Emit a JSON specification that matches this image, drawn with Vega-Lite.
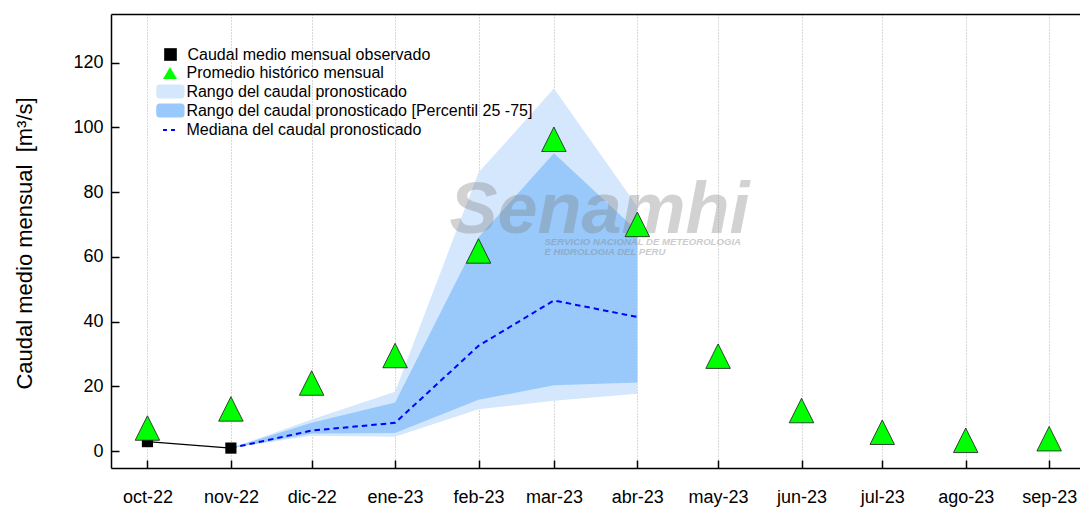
{
  "$schema": "https://vega.github.io/schema/vega-lite/v6.json",
  "width": 969,
  "height": 454,
  "autosize": "none",
  "padding": {"left": 111, "top": 14, "right": 0, "bottom": 42},
  "background": "white",
  "config": {"view": {"stroke": null}, "font": "Liberation Sans",
    "legend": {"orient": "none", "title": null, "padding": 0, "labelFont": "Liberation Sans", "labelFontSize": 16, "labelColor": "#000000", "labelLimit": 700, "symbolOpacity": 1}},
  "datasets": {
    "fc": [
      {"m": "2022-11-01T00:00:00", "lo": 0.9, "p25": 0.9, "med": 0.9, "p75": 0.9, "hi": 0.9},
      {"m": "2022-12-01T00:00:00", "lo": 4.7, "p25": 5.4, "med": 6.3, "p75": 8.7, "hi": 9.7},
      {"m": "2023-01-01T00:00:00", "lo": 4.4, "p25": 5.6, "med": 8.7, "p75": 15.0, "hi": 18.3},
      {"m": "2023-02-01T00:00:00", "lo": 12.9, "p25": 15.8, "med": 32.5, "p75": 66.0, "hi": 86.0},
      {"m": "2023-03-01T00:00:00", "lo": 15.5, "p25": 20.3, "med": 46.5, "p75": 92.0, "hi": 112.0},
      {"m": "2023-04-01T00:00:00", "lo": 17.7, "p25": 21.2, "med": 41.4, "p75": 68.0, "hi": 75.5}
    ],
    "hist": [
      {"m": "2022-10-01T00:00:00", "v": 7.1},
      {"m": "2022-11-01T00:00:00", "v": 13.0},
      {"m": "2022-12-01T00:00:00", "v": 21.0},
      {"m": "2023-01-01T00:00:00", "v": 29.5},
      {"m": "2023-02-01T00:00:00", "v": 61.8},
      {"m": "2023-03-01T00:00:00", "v": 96.3},
      {"m": "2023-04-01T00:00:00", "v": 70.0},
      {"m": "2023-05-01T00:00:00", "v": 29.3},
      {"m": "2023-06-01T00:00:00", "v": 12.5},
      {"m": "2023-07-01T00:00:00", "v": 5.8},
      {"m": "2023-08-01T00:00:00", "v": 3.3},
      {"m": "2023-09-01T00:00:00", "v": 3.8}
    ],
    "obs": [
      {"m": "2022-10-01T00:00:00", "v": 2.9},
      {"m": "2022-11-01T00:00:00", "v": 0.9}
    ]
  },
  "resolve": {"axis": {"x": "independent"}, "scale": {"color": "independent"}, "legend": {"color": "independent"}},
  "layer": [
    {
      "data": {"name": "fc"},
      "mark": {"type": "area", "opacity": 1},
      "encoding": {
        "x": {
          "field": "m", "type": "temporal",
          "scale": {"domain": [{"year": 2022, "month": 9, "date": 17, "hours": 11}, {"year": 2023, "month": 9, "date": 12, "hours": 11}]},
          "axis": {
            "orient": "bottom", "title": null,
            "values": [
              {"year": 2022, "month": 10, "date": 1}, {"year": 2022, "month": 11, "date": 1}, {"year": 2022, "month": 12, "date": 1},
              {"year": 2023, "month": 1, "date": 1}, {"year": 2023, "month": 2, "date": 1}, {"year": 2023, "month": 3, "date": 1},
              {"year": 2023, "month": 4, "date": 1}, {"year": 2023, "month": 5, "date": 1}, {"year": 2023, "month": 6, "date": 1},
              {"year": 2023, "month": 7, "date": 1}, {"year": 2023, "month": 8, "date": 1}, {"year": 2023, "month": 9, "date": 1}
            ],
            "labelExpr": "['ene','feb','mar','abr','may','jun','jul','ago','sep','oct','nov','dic'][month(datum.value)] + '-' + timeFormat(datum.value, '%y')",
            "labelFont": "Liberation Sans", "labelFontSize": 18, "labelColor": "#000000",
            "labelPadding": 28, "labelFlush": false, "labelOverlap": false, "labelBaseline": "top",
            "tickSize": -8, "tickColor": "#000000", "tickWidth": 1.5,
            "domainColor": "#000000", "domainWidth": 1.5,
            "grid": true, "gridColor": "#b0b0b0", "gridDash": [1, 2], "gridWidth": 1
          }
        },
        "y": {
          "field": "lo", "type": "quantitative",
          "scale": {"domain": [-5.25, 135], "nice": false, "zero": false},
          "axis": {
            "orient": "left",
            "title": "Caudal medio mensual\u00a0\u00a0[m³/s]",
            "values": [0, 20, 40, 60, 80, 100, 120],
            "labelFont": "Liberation Sans", "labelFontSize": 18, "labelColor": "#000000", "labelPadding": 16,
            "tickSize": -8, "tickColor": "#000000", "tickWidth": 1.5,
            "domainColor": "#000000", "domainWidth": 1.5,
            "grid": false,
            "titleFont": "Liberation Sans", "titleFontSize": 22, "titleFontWeight": "normal", "titleColor": "#000000",
            "titleAngle": -90, "titleX": -80, "titleY": 229, "titleBaseline": "alphabetic", "titleAlign": "center"
          }
        },
        "y2": {"field": "hi"},
        "color": {
          "datum": "Rango del caudal pronosticado",
          "scale": {"range": ["#d4e7fc"]},
          "legend": {"legendX": 51.4, "legendY": 69.5, "symbolType": "M-1.5,-1L1.5,-1Q2,-1,2,-0.5L2,0.5Q2,1,1.5,1L-1.5,1Q-2,1,-2,0.5L-2,-0.5Q-2,-1,-1.5,-1Z", "symbolSize": 200, "labelOffset": 8, "symbolStrokeWidth": 0}
        }
      }
    },
    {
      "data": {"name": "fc"},
      "mark": {"type": "area", "opacity": 1},
      "encoding": {
        "x": {"field": "m", "type": "temporal",
          "axis": {"orient": "top", "title": null, "labels": false, "ticks": false, "grid": false, "domainColor": "#000000", "domainWidth": 1.5}},
        "y": {"field": "p25", "type": "quantitative"},
        "y2": {"field": "p75"},
        "color": {
          "datum": "Rango del caudal pronosticado [Percentil 25 -75]",
          "scale": {"range": ["#98c9fa"]},
          "legend": {"legendX": 51.4, "legendY": 88.5, "symbolType": "M-1.5,-1L1.5,-1Q2,-1,2,-0.5L2,0.5Q2,1,1.5,1L-1.5,1Q-2,1,-2,0.5L-2,-0.5Q-2,-1,-1.5,-1Z", "symbolSize": 200, "labelOffset": 8, "symbolStrokeWidth": 0}
        }
      }
    },
    {
      "data": {"values": [{"m": "2023-01-21T05:00:00", "v": 67.3, "t": "Senamhi"}]},
      "mark": {"type": "text", "font": "Liberation Sans", "fontStyle": "italic", "fontWeight": "bold", "fontSize": 72, "align": "left", "baseline": "alphabetic", "color": "#808080", "opacity": 0.35},
      "encoding": {
        "x": {"field": "m", "type": "temporal", "axis": null},
        "y": {"field": "v", "type": "quantitative"},
        "text": {"field": "t"}
      }
    },
    {
      "data": {"values": [
        {"m": "2023-02-25T12:00:00", "v": 63.6, "t": "SERVICIO NACIONAL DE METEOROLOGIA"},
        {"m": "2023-02-25T12:00:00", "v": 60.6, "t": "E HIDROLOGIA DEL PERU"}
      ]},
      "mark": {"type": "text", "font": "Liberation Sans", "fontStyle": "italic", "fontWeight": "bold", "fontSize": 9.6, "align": "left", "baseline": "alphabetic", "color": "#808080", "opacity": 0.4},
      "encoding": {
        "x": {"field": "m", "type": "temporal", "axis": null},
        "y": {"field": "v", "type": "quantitative"},
        "text": {"field": "t"}
      }
    },
    {
      "data": {"name": "fc"},
      "mark": {"type": "line", "strokeWidth": 2, "strokeDash": [5.5, 4]},
      "encoding": {
        "x": {"field": "m", "type": "temporal", "axis": null},
        "y": {"field": "med", "type": "quantitative"},
        "color": {
          "datum": "Mediana del caudal pronosticado",
          "scale": {"range": ["#0000ff"]},
          "legend": {"legendX": 51, "legendY": 107.5, "symbolType": "stroke", "symbolSize": 225, "symbolDash": [4, 4], "symbolStrokeWidth": 2, "labelOffset": 7.5}
        }
      }
    },
    {
      "data": {"name": "obs"},
      "mark": {"type": "line", "strokeWidth": 1.3, "color": "#000000"},
      "encoding": {
        "x": {"field": "m", "type": "temporal", "axis": null},
        "y": {"field": "v", "type": "quantitative"}
      }
    },
    {
      "data": {"name": "obs"},
      "mark": {"type": "point", "shape": "square", "filled": true, "size": 125, "opacity": 1},
      "encoding": {
        "x": {"field": "m", "type": "temporal", "axis": null},
        "y": {"field": "v", "type": "quantitative"},
        "color": {
          "datum": "Caudal medio mensual observado",
          "scale": {"range": ["#000000"]},
          "legend": {"legendX": 51.5, "legendY": 32.5, "symbolType": "square", "symbolSize": 160, "labelOffset": 9}
        }
      }
    },
    {
      "data": {"name": "hist"},
      "mark": {"type": "point", "shape": "M0,-1L1,1L-1,1Z", "filled": true, "size": 600, "opacity": 1, "stroke": "#1a1a1a", "strokeWidth": 0.8},
      "encoding": {
        "x": {"field": "m", "type": "temporal", "axis": null},
        "y": {"field": "v", "type": "quantitative"},
        "color": {
          "datum": "Promedio histórico mensual",
          "scale": {"range": ["#00ff00"]},
          "legend": {"legendX": 51, "legendY": 51, "symbolType": "triangle-up", "symbolSize": 196, "labelOffset": 8.5, "symbolStrokeWidth": 0}
        }
      }
    }
  ]
}
